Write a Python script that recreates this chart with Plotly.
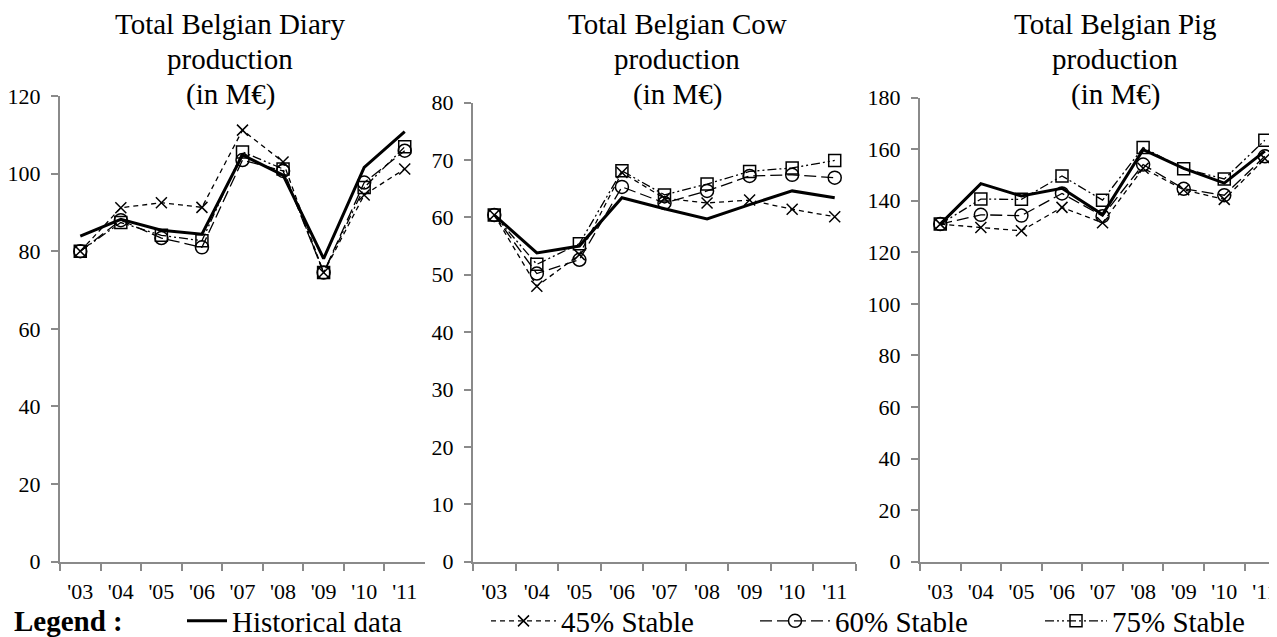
import plotly.graph_objects as go

OFF = 8  # page body margin of the html page
W, H = 1277 - OFF, 637 - OFF

years = ["'03", "'04", "'05", "'06", "'07", "'08", "'09", "'10", "'11"]

dairy_hist = [83.9, 88.2, 85.4, 84.4, 104.8, 99.6, 78.1, 101.6, 110.8]
dairy_45 = [80.0, 91.2, 92.5, 91.3, 111.2, 103.0, 74.5, 94.5, 101.2]
dairy_60 = [80.0, 88.0, 83.4, 81.0, 103.5, 100.7, 74.5, 97.7, 105.9]
dairy_75 = [80.0, 87.4, 84.1, 82.7, 105.6, 101.2, 74.5, 96.4, 106.9]

cow_hist = [60.4, 53.8, 55.0, 63.4, 61.5, 59.7, 62.2, 64.6, 63.4]
cow_45 = [60.4, 48.0, 53.5, 67.8, 63.3, 62.5, 63.0, 61.4, 60.1]
cow_60 = [60.4, 50.2, 52.6, 65.3, 62.5, 64.6, 67.2, 67.4, 66.9]
cow_75 = [60.4, 51.8, 55.4, 68.1, 63.9, 65.8, 68.0, 68.6, 69.9]

pig_hist = [130.9, 146.6, 141.8, 144.8, 134.6, 159.8, 152.5, 146.8, 159.2]
pig_45 = [130.9, 129.6, 128.3, 137.4, 131.4, 152.6, 144.2, 140.5, 156.3]
pig_60 = [130.9, 134.5, 134.2, 142.8, 134.0, 154.0, 144.6, 142.1, 157.2]
pig_75 = [130.9, 140.6, 140.5, 149.6, 140.2, 160.6, 152.4, 148.4, 163.4]

title_lines = [
    ["Total Belgian Diary", "production", "(in M€)"],
    ["Total Belgian Cow", "production", "(in M€)"],
    ["Total Belgian Pig", "production", "(in M€)"],
]
series_names = ["Historical data", "45% Stable", "60% Stable", "75% Stable"]
panels = [
    [dairy_hist, dairy_45, dairy_60, dairy_75],
    [cow_hist, cow_45, cow_60, cow_75],
    [pig_hist, pig_45, pig_60, pig_75],
]
y_max = [120, 80, 180]
y_dtick = [20, 10, 20]

FONT = "Liberation Serif, Times New Roman, serif"
AXC = "#8a8a8a"


def px_x(v):
    return (v - OFF) / W


def px_y(v):
    return 1 - (v - OFF) / H


# pixel geometry in the screenshot's coordinates
x_dom_px = [(60, 425), (473, 856), (920, 1277)]
x_rng = [[-0.5, 8.5], [-0.5, 8.5], [-0.5, 8.3]]
y_top_px = [96, 102.5, 97.5]
y_bot_px = 561.7
title_cx = [230, 677, 1115]
title_line_cy = [24, 59, 94]

styles = [
    dict(line=dict(color="black", width=3), mode="lines", marker=None),
    dict(line=dict(color="black", width=1.3, dash="5px,4px"), mode="lines+markers",
         marker=dict(symbol="x-thin-open", size=11, color="black", line=dict(color="black", width=1.5))),
    dict(line=dict(color="black", width=1.3, dash="12px,5px"), mode="lines+markers",
         marker=dict(symbol="circle-open", size=13, color="black", line=dict(color="black", width=1.5))),
    dict(line=dict(color="black", width=1.3, dash="9px,3px,2px,3px,2px,3px"), mode="lines+markers",
         marker=dict(symbol="square-open", size=12, color="black", line=dict(color="black", width=1.5))),
]
legend_ids = ["legend", "legend2", "legend3", "legend4"]

fig = go.Figure()
for p, data in enumerate(panels):
    xa = "x" if p == 0 else f"x{p+1}"
    ya = "y" if p == 0 else f"y{p+1}"
    for s, vals in enumerate(data):
        st = styles[s]
        kw = dict(x=years, y=vals, name=series_names[s], mode=st["mode"], line=st["line"],
                  xaxis=xa, yaxis=ya, showlegend=(p == 0), legend=legend_ids[s],
                  cliponaxis=False)
        if st["marker"] is not None:
            kw["marker"] = st["marker"]
        fig.add_trace(go.Scatter(**kw))

layout = dict(
    width=W, height=H, margin=dict(l=0, r=0, t=0, b=0, pad=0, autoexpand=False),
    paper_bgcolor="white", plot_bgcolor="white",
    font=dict(family=FONT, color="black", size=22),
)
for p in range(3):
    sx = "" if p == 0 else str(p + 1)
    x0, x1 = x_dom_px[p]
    layout["xaxis" + sx] = dict(
        domain=[px_x(x0), min(1.0, px_x(x1))], range=x_rng[p], type="category",
        anchor="y" + sx, showline=True, linecolor=AXC, linewidth=2,
        ticks="outside", tickson="boundaries", ticklen=7, tickcolor=AXC, tickwidth=1.5,
        showgrid=False, zeroline=False, tickfont=dict(family=FONT, size=22, color="black"),
        ticklabelstandoff=9,
    )
    layout["yaxis" + sx] = dict(
        domain=[px_y(y_bot_px), px_y(y_top_px[p])], range=[0, y_max[p]],
        dtick=y_dtick[p], tick0=0, anchor="x" + sx, showline=True, linecolor=AXC, linewidth=2,
        ticks="outside", ticklen=7, tickcolor=AXC, tickwidth=1.5,
        showgrid=False, zeroline=False, tickfont=dict(family=FONT, size=22, color="black"),
        ticklabelstandoff=6,
    )

LEG_Y = 621
annotations = []
for p in range(3):
    for li, txt in enumerate(title_lines[p]):
        annotations.append(dict(
            text=txt, x=px_x(title_cx[p]), y=px_y(title_line_cy[li]), xref="paper", yref="paper",
            xanchor="center", yanchor="middle", showarrow=False,
            font=dict(family=FONT, size=29, color="black"), align="center"))
annotations.append(dict(
    text="<b>Legend :</b>", x=px_x(12), y=px_y(LEG_Y), xref="paper", yref="paper",
    xanchor="left", yanchor="middle", showarrow=False,
    font=dict(family=FONT, size=29, color="black")))
layout["annotations"] = annotations

legend_x_px = [182, 486, 755, 1040]
legend_itemw = [40, 65, 70, 62]
for i, lid in enumerate(legend_ids):
    layout[lid] = dict(
        x=px_x(legend_x_px[i]), y=px_y(LEG_Y), xanchor="left", yanchor="middle",
        orientation="h", bgcolor="rgba(0,0,0,0)", itemwidth=legend_itemw[i],
        font=dict(family=FONT, size=29, color="black"), borderwidth=0,
        tracegroupgap=0,
    )

fig.update_layout(**layout)
fig.write_html("out.html")
